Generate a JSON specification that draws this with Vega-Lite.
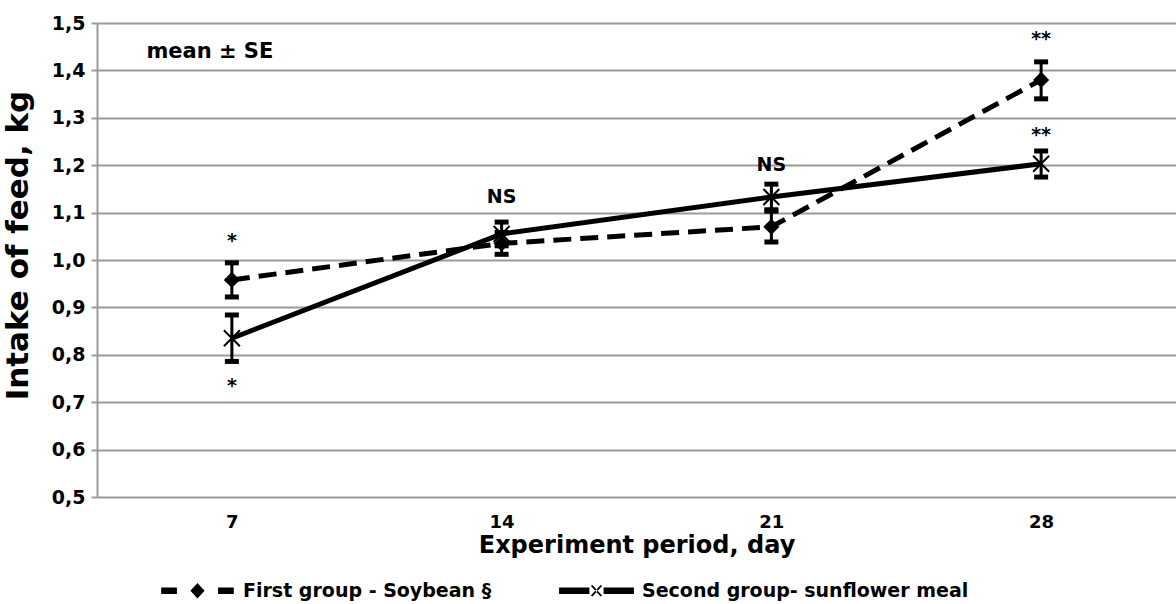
{
  "$schema": "https://vega.github.io/schema/vega-lite/v6.json",
  "width": 1079,
  "height": 474,
  "autosize": {"type": "none"},
  "padding": {"left": 97, "top": 23, "right": 0, "bottom": 107},
  "background": "white",
  "config": {
    "font": "DejaVu Sans",
    "view": {"stroke": null},
    "axis": {"labelFont": "DejaVu Sans", "titleFont": "DejaVu Sans", "labelFontWeight": "bold", "titleFontWeight": "bold", "labelColor": "#000", "titleColor": "#000"}
  },
  "datasets": {
    "obs": [
      {"day": 7, "group": "First group - Soybean §", "mean": 0.958, "lo": 0.922, "hi": 0.994},
      {"day": 14, "group": "First group - Soybean §", "mean": 1.035, "lo": 1.012, "hi": 1.058},
      {"day": 21, "group": "First group - Soybean §", "mean": 1.07, "lo": 1.038, "hi": 1.103},
      {"day": 28, "group": "First group - Soybean §", "mean": 1.38, "lo": 1.34, "hi": 1.418},
      {"day": 7, "group": "Second group- sunflower meal", "mean": 0.835, "lo": 0.786, "hi": 0.884},
      {"day": 14, "group": "Second group- sunflower meal", "mean": 1.055, "lo": 1.03, "hi": 1.08},
      {"day": 21, "group": "Second group- sunflower meal", "mean": 1.133, "lo": 1.106, "hi": 1.16},
      {"day": 28, "group": "Second group- sunflower meal", "mean": 1.203, "lo": 1.175, "hi": 1.23}
    ],
    "notes": [
      {"day": 7, "y": 1.04, "label": "*"},
      {"day": 7, "y": 0.735, "label": "*"},
      {"day": 14, "y": 1.133, "label": "NS"},
      {"day": 21, "y": 1.2, "label": "NS"},
      {"day": 28, "y": 1.467, "label": "**"},
      {"day": 28, "y": 1.264, "label": "**"}
    ],
    "corner": [
      {"day": 7, "y": 1.439, "label": "mean ± SE"}
    ]
  },
  "layer": [
    {
      "data": {"name": "obs"},
      "mark": {"type": "rule", "strokeWidth": 3, "color": "#000"},
      "encoding": {
        "x": {"field": "day", "type": "ordinal", "scale": {"type": "point", "padding": 0.5},
              "axis": {"title": "Experiment period, day", "labelAngle": 0, "labelFontSize": 18, "titleFontSize": 24, "ticks": false, "domain": false, "labelPadding": 16, "titlePadding": 2}},
        "y": {"field": "lo", "type": "quantitative",
              "scale": {"domain": [0.5, 1.5], "nice": false, "zero": false},
              "axis": {"title": "Intake of feed, kg", "values": [0.5, 0.6, 0.7, 0.8, 0.9, 1.0, 1.1, 1.2, 1.3, 1.4, 1.5],
                       "labelExpr": "replace(format(datum.value, '.1f'), '.', ',')",
                       "labelFontSize": 19, "titleFontSize": 31, "titleY": 222, "grid": true, "gridColor": "#9a9a9a", "gridWidth": 2,
                       "domainColor": "#9a9a9a", "domainWidth": 2, "tickColor": "#9a9a9a", "tickWidth": 2, "tickSize": 6,
                       "labelPadding": 6, "titlePadding": 17}},
        "y2": {"field": "hi"}
      }
    },
    {
      "data": {"name": "obs"},
      "mark": {"type": "tick", "size": 14, "thickness": 5, "color": "#000", "opacity": 1, "orient": "horizontal"},
      "encoding": {
        "x": {"field": "day", "type": "ordinal"},
        "y": {"field": "lo", "type": "quantitative"}
      }
    },
    {
      "data": {"name": "obs"},
      "mark": {"type": "tick", "size": 14, "thickness": 5, "color": "#000", "opacity": 1, "orient": "horizontal"},
      "encoding": {
        "x": {"field": "day", "type": "ordinal"},
        "y": {"field": "hi", "type": "quantitative"}
      }
    },
    {
      "data": {"name": "obs"},
      "transform": [{"filter": "datum.group == 'First group - Soybean §'"}],
      "mark": {"type": "line", "strokeWidth": 5, "color": "#000", "strokeCap": "butt", "strokeDash": [18, 9]},
      "encoding": {
        "x": {"field": "day", "type": "ordinal"},
        "y": {"field": "mean", "type": "quantitative"}
      }
    },
    {
      "data": {"name": "obs"},
      "transform": [{"filter": "datum.group == 'Second group- sunflower meal'"}],
      "mark": {"type": "line", "strokeWidth": 5, "color": "#000", "strokeCap": "butt"},
      "encoding": {
        "x": {"field": "day", "type": "ordinal"},
        "y": {"field": "mean", "type": "quantitative"}
      }
    },
    {
      "data": {"name": "obs"},
      "mark": {"type": "point", "filled": true, "color": "#000", "size": 0, "opacity": 1},
      "encoding": {
        "x": {"field": "day", "type": "ordinal"},
        "y": {"field": "mean", "type": "quantitative"},
        "shape": {
          "field": "group", "type": "nominal",
          "scale": {"domain": ["First group - Soybean §", "Second group- sunflower meal"],
                    "range": ["M-0.97,-0.085H-0.55V0.085H-0.97ZM0.55,-0.085H0.97V0.085H0.55ZM0,-0.21L0.19,0L0,0.21L-0.19,0Z",
                              "M-1,-0.085H-0.19V0.085H-1ZM0.19,-0.085H1V0.085H0.19ZM-0.15,-0.125L-0.11,-0.155L0.15,0.125L0.11,0.155ZM-0.15,0.125L-0.11,0.155L0.15,-0.125L0.11,-0.155Z"]},
          "legend": {
            "title": null, "orient": "none", "legendX": 63, "legendY": 530, "direction": "horizontal",
            "padding": 0, "labelFont": "DejaVu Sans", "labelFontWeight": "bold", "labelFontSize": 19, "labelColor": "#000",
            "labelLimit": 500, "symbolSize": 5600, "symbolFillColor": "#000", "symbolStrokeWidth": 0, "symbolOpacity": 1,
            "labelOffset": 8, "columnPadding": 67
          }
        }
      }
    },
    {
      "data": {"name": "obs"},
      "transform": [{"filter": "datum.group == 'First group - Soybean §'"}],
      "mark": {"type": "point", "shape": "diamond", "filled": true, "size": 260, "color": "#000", "opacity": 1},
      "encoding": {
        "x": {"field": "day", "type": "ordinal"},
        "y": {"field": "mean", "type": "quantitative"}
      }
    },
    {
      "data": {"name": "obs"},
      "transform": [{"filter": "datum.group == 'Second group- sunflower meal'"}],
      "mark": {"type": "point", "shape": "M-0.8,-0.8L0.8,0.8M-0.8,0.8L0.8,-0.8M0,-1L0,1", "filled": false, "size": 400, "color": "#000", "strokeWidth": 2, "opacity": 1},
      "encoding": {
        "x": {"field": "day", "type": "ordinal"},
        "y": {"field": "mean", "type": "quantitative"}
      }
    },
    {
      "data": {"name": "notes"},
      "mark": {"type": "text", "font": "DejaVu Sans", "fontWeight": "bold", "fontSize": 19, "color": "#000", "baseline": "middle", "align": "center"},
      "encoding": {
        "x": {"field": "day", "type": "ordinal"},
        "y": {"field": "y", "type": "quantitative"},
        "text": {"field": "label"}
      }
    },
    {
      "data": {"name": "corner"},
      "mark": {"type": "text", "font": "DejaVu Sans", "fontWeight": "bold", "fontSize": 21, "color": "#000", "baseline": "middle", "align": "center", "dx": -22},
      "encoding": {
        "x": {"field": "day", "type": "ordinal"},
        "y": {"field": "y", "type": "quantitative"},
        "text": {"field": "label"}
      }
    }
  ]
}
